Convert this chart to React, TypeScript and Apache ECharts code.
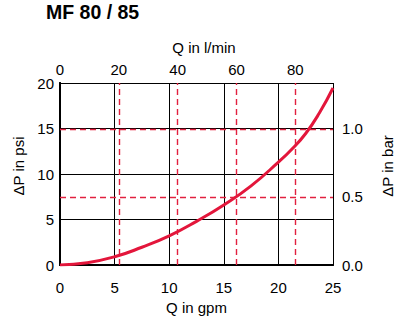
import React, { useEffect, useRef } from "react";
import * as echarts from "echarts";

// Flow in gpm vs pressure drop in psi
const flowGpm = [0, 2.5, 5, 7.5, 10, 12.5, 15, 17.5, 20, 21.25, 22.5, 23.75, 25];
const dropPsi = [0, 0.25, 0.9, 1.95, 3.2, 4.8, 6.6, 8.7, 11.3, 12.75, 14.45, 16.7, 19.45];

// Secondary scales
const lpmMarks = [20, 40, 60, 80];
const barMarks = [0.5, 1.0];

const FONT = "'Liberation Sans', Arial, Helvetica, sans-serif";
const RED = "#e3163b";
const DASH_RED = "#e2203f";

export default function App() {
  const ref = useRef<HTMLDivElement>(null);

  useEffect(() => {
    document.body.style.margin = "0";
    if (!ref.current) return;
    const chart = echarts.init(ref.current, null, { renderer: "svg" });

    const labelStyle = { color: "#000", fontSize: 15, fontFamily: FONT };
    const nameStyle = { color: "#000", fontSize: 15, fontFamily: FONT };
    const border = { show: true, lineStyle: { color: "#000", width: 2 } };
    const blackGrid = { show: true, lineStyle: { color: "#000", width: 1 } };
    const dashStyle = { color: DASH_RED, width: 1.4, type: [6, 4], opacity: 1 };

    const option: any = {
      animation: false,
      backgroundColor: "#fff",
      grid: { left: 60, right: 63, top: 83, bottom: 57, containLabel: false, outerBoundsMode: "none" },
      title: {
        text: "MF 80 / 85",
        left: 41,
        top: -3,
        textStyle: { fontFamily: FONT, fontWeight: "bold", fontSize: 19.5, color: "#000" },
      },
      xAxis: [
        {
          type: "value",
          position: "bottom",
          min: 0,
          max: 25,
          interval: 5,
          name: "Q in gpm",
          nameLocation: "middle",
          nameGap: 34,
          nameTextStyle: nameStyle,
          axisLine: border,
          axisTick: { show: false },
          axisLabel: { ...labelStyle, margin: 15 },
          splitLine: blackGrid,
        },
        {
          type: "value",
          position: "top",
          min: 0,
          max: 92.8,
          interval: 20,
          name: "Q in l/min",
          nameLocation: "middle",
          nameGap: 28,
          nameTextStyle: { ...nameStyle, padding: [0, 0, 0, 15] },
          axisLine: border,
          axisTick: { show: false },
          axisLabel: { ...labelStyle, margin: 6, showMaxLabel: false },
          splitLine: { show: false },
        },
      ],
      yAxis: [
        {
          type: "value",
          position: "left",
          min: 0,
          max: 20,
          interval: 5,
          name: "ΔP in psi",
          nameLocation: "middle",
          nameRotate: 90,
          nameGap: 14,
          nameTextStyle: { ...nameStyle, padding: [0, 0, 0, 16] },
          axisLine: border,
          axisTick: { show: false },
          axisLabel: { ...labelStyle, margin: 6 },
          splitLine: blackGrid,
        },
        {
          type: "value",
          position: "right",
          min: 0,
          max: 1.337,
          interval: 0.5,
          name: "ΔP in bar",
          nameLocation: "middle",
          nameRotate: 90,
          nameGap: 47,
          nameTextStyle: { ...nameStyle, padding: [0, 0, 0, 16] },
          axisLine: border,
          axisTick: { show: false },
          axisLabel: {
            ...labelStyle,
            margin: 9,
            showMaxLabel: false,
            formatter: (v: number) => v.toFixed(1),
          },
          splitLine: { show: false },
        },
      ],
      series: [
        {
          type: "line",
          xAxisIndex: 1,
          yAxisIndex: 1,
          data: [],
          silent: true,
          color: DASH_RED,
          markLine: {
            silent: true,
            symbol: "none",
            label: { show: false },
            lineStyle: dashStyle,
            emphasis: { disabled: true },
            data: [
              ...lpmMarks.map((v) => ({ xAxis: v, lineStyle: dashStyle })),
              ...barMarks.map((v) => ({ yAxis: v, lineStyle: dashStyle })),
            ],
          },
        },
        {
          type: "line",
          xAxisIndex: 0,
          yAxisIndex: 0,
          data: flowGpm.map((q, i) => [q, dropPsi[i]]),
          smooth: 0.5,
          showSymbol: false,
          symbol: "none",
          lineStyle: { color: RED, width: 3 },
          z: 5,
        },
      ],
    };

    chart.setOption(option);
    return () => chart.dispose();
  }, []);

  return <div ref={ref} style={{ width: 396, height: 322 }} />;
}
